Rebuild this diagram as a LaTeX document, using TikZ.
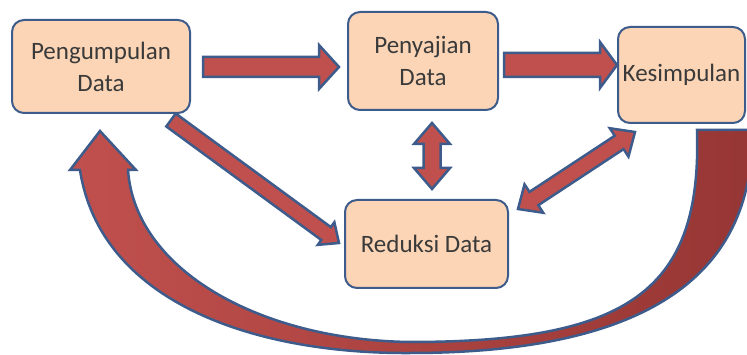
\documentclass[tikz,border=0pt]{standalone}
\usepackage{fontspec}
\setmainfont{Carlito}
\usetikzlibrary{calc}

\definecolor{boxfill}{HTML}{FBD5B5}
\definecolor{boxline}{HTML}{3D5C8C}
\definecolor{arrowred}{HTML}{C0504D}
\definecolor{arrowdark}{HTML}{963634}
\definecolor{textgray}{HTML}{3A3A3A}

% block arrow: from, to, shaft half width, head half width, head length
\newcommand{\blockarrow}[5]{%
  \coordinate (bs) at #1;
  \coordinate (be) at #2;
  \coordinate (bh) at ($(be)!#5!(bs)$);
  \draw[arrowbody] ($(bs)!#3!90:(be)$) -- ($(bh)!#3!90:(be)$) -- ($(bh)!#4!90:(be)$) -- (be)
    -- ($(bh)!#4!-90:(be)$) -- ($(bh)!#3!-90:(be)$) -- ($(bs)!#3!-90:(be)$) -- cycle;}
% same with a head on both ends
\newcommand{\doublearrow}[5]{%
  \coordinate (bs) at #1;
  \coordinate (be) at #2;
  \coordinate (bh) at ($(be)!#5!(bs)$);
  \coordinate (bt) at ($(bs)!#5!(be)$);
  \draw[arrowbody] (bs) -- ($(bt)!#4!90:(be)$) -- ($(bt)!#3!90:(be)$) -- ($(bh)!#3!90:(be)$)
    -- ($(bh)!#4!90:(be)$) -- (be) -- ($(bh)!#4!-90:(be)$) -- ($(bh)!#3!-90:(be)$)
    -- ($(bt)!#3!-90:(be)$) -- ($(bt)!#4!-90:(be)$) -- cycle;}

\begin{document}
\begin{tikzpicture}[x=1pt,y=-1pt,
  stage/.style={draw=boxline,line width=2pt,fill=boxfill,rounded corners=12pt,
    align=center,inner sep=2pt,text=textgray,font=\fontsize{25}{32}\selectfont},
  arrowbody/.style={draw=boxline,line width=2.5pt,fill=arrowred,line join=miter}]
\useasboundingbox (0,0) rectangle (747,355);

% big arrow back to the start
\draw[draw=boxline,line width=2.5pt,left color=arrowred,right color=arrowdark]
  (752,130) .. controls (755,280) and (640,353) .. (410,353)
  .. controls (250,354) and (100,300) .. (80,170)
  -- (70,170) -- (100,131) -- (136,170) -- (128,170)
  .. controls (135,270) and (260,340) .. (410,342)
  .. controls (630,342) and (702,290) .. (697,130) -- cycle;

\node[stage,minimum width=178pt,minimum height=93pt] (peng) at (101,66.5) {Pengumpulan\\Data};
\node[stage,minimum width=150pt,minimum height=98pt] (peny) at (423,61) {Penyajian\\Data};
\node[stage,minimum width=127pt,minimum height=96pt] (kes) at (681.5,75) {Kesimpulan};
\node[stage,minimum width=163pt,minimum height=88pt] (red) at (426.5,244) {Reduksi Data};

\blockarrow{($(peng.east)+(12,0.5)$)}{($(peny.west)+(-8,6)$)}{10pt}{22pt}{20pt}
\blockarrow{($(peny.east)+(5,4)$)}{($(kes.west)+(0,-10)$)}{12pt}{23pt}{17pt}
\blockarrow{($(peng.south east)+(-20,6)$)}{($(red.west)+(-5,-1)$)}{8pt}{14pt}{16pt}
\doublearrow{($(peny.south)+(9,12)$)}{($(red.north)+(5.5,-10)$)}{8.5pt}{18pt}{21pt}
\doublearrow{($(red.north east)+(9,10)$)}{($(kes.south west)+(18,8)$)}{8pt}{17pt}{19pt}
\end{tikzpicture}
\end{document}
